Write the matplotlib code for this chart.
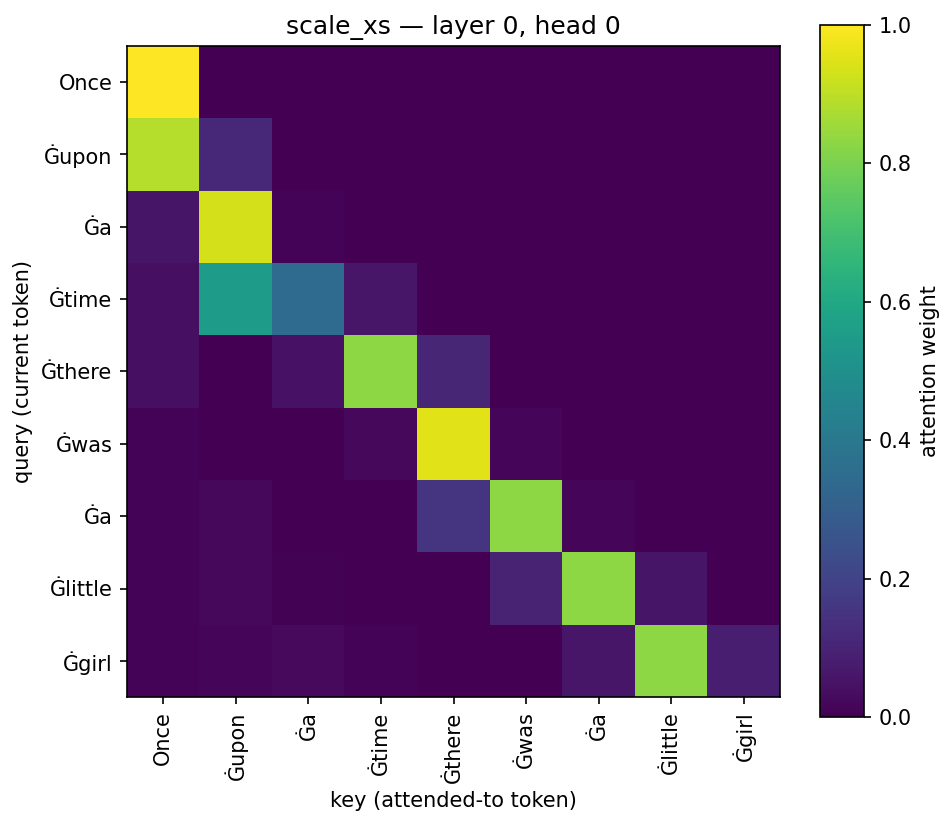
import matplotlib
matplotlib.use("Agg")
import matplotlib.pyplot as plt
import numpy as np

tokens = ["Once", "Ġupon", "Ġa", "Ġtime", "Ġthere", "Ġwas", "Ġa", "Ġlittle", "Ġgirl"]
labels = [t.replace("Ġ", "\u0120") for t in tokens]

row0 = [1.00, 0, 0, 0, 0, 0, 0, 0, 0]
row1 = [0.89, 0.11, 0, 0, 0, 0, 0, 0, 0]
row2 = [0.055, 0.935, 0.01, 0, 0, 0, 0, 0, 0]
row3 = [0.04, 0.55, 0.35, 0.06, 0, 0, 0, 0, 0]
row4 = [0.04, 0.003, 0.05, 0.83, 0.107, 0, 0, 0, 0]
row5 = [0.01, 0.003, 0.003, 0.02, 0.955, 0.015, 0, 0, 0]
row6 = [0.01, 0.02, 0.003, 0.003, 0.15, 0.83, 0.014, 0, 0]
row7 = [0.01, 0.02, 0.007, 0.003, 0.003, 0.10, 0.83, 0.057, 0]
row8 = [0.01, 0.015, 0.025, 0.01, 0.003, 0.002, 0.06, 0.83, 0.085]

attn = np.array([row0, row1, row2, row3, row4, row5, row6, row7, row8])

fig = plt.figure(figsize=(946/150, 826/150), dpi=150)
ax = fig.add_axes([127/946, 1 - 697/826, 653/946, 651/826])
cax = fig.add_axes([820/946, 1 - 717/826, 44/946, 692/826])

im = ax.imshow(attn, cmap="viridis", vmin=0, vmax=1, aspect="auto")
ax.set_xticks(range(len(labels)))
ax.set_xticklabels(labels, rotation=90)
ax.set_yticks(range(len(labels)))
ax.set_yticklabels(labels)
ax.set_xlabel("key (attended-to token)")
ax.set_ylabel("query (current token)")
ax.set_title("scale_xs \u2014 layer 0, head 0")

cb = fig.colorbar(im, cax=cax)
cb.set_label("attention weight")

fig.savefig("out.png", dpi=150)
